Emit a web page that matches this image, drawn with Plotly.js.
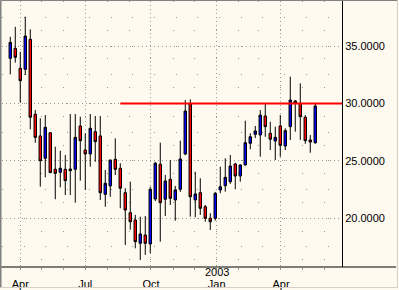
<!DOCTYPE html>
<html>
<head>
<meta charset="utf-8">
<script src="https://cdn.plot.ly/plotly-3.0.1.min.js"></script>
<style>html,body{margin:0;padding:0;background:#fffaf0;}#chart{width:399px;height:290px;}</style>
</head>
<body>
<div id="chart"></div>
<script>
const weeks = [
  "2002-03-18","2002-03-25","2002-04-01","2002-04-08","2002-04-15","2002-04-22","2002-04-29",
  "2002-05-06","2002-05-13","2002-05-20","2002-05-27","2002-06-03","2002-06-10","2002-06-17","2002-06-24",
  "2002-07-01","2002-07-08","2002-07-15","2002-07-22","2002-07-29","2002-08-05","2002-08-12","2002-08-19","2002-08-26",
  "2002-09-02","2002-09-09","2002-09-16","2002-09-23","2002-09-30","2002-10-07","2002-10-14","2002-10-21","2002-10-28",
  "2002-11-04","2002-11-11","2002-11-18","2002-11-25","2002-12-02","2002-12-09","2002-12-16","2002-12-23","2002-12-30",
  "2003-01-06","2003-01-13","2003-01-20","2003-01-27","2003-02-03","2003-02-10","2003-02-17","2003-02-24",
  "2003-03-03","2003-03-10","2003-03-17","2003-03-24","2003-03-31","2003-04-07","2003-04-14","2003-04-21","2003-04-28",
  "2003-05-05","2003-05-12","2003-05-19"
];
const openP = [33.95,34.82,33.08,32.99,35.61,29.07,27.18,25.23,27.46,24.27,24.01,24.27,24.15,24.27,28.05,
  25.95,25.61,27.55,27.18,22.09,22.82,25.14,24.36,22.23,20.49,19.85,17.82,18.54,17.76,21.68,24.71,21.66,23.40,
  21.60,22.53,25.61,29.97,21.60,22.23,21.01,20.00,20.00,22.47,22.84,23.19,24.73,23.69,24.65,26.54,27.32,
  27.26,28.92,27.41,26.74,28.05,26.30,27.99,30.23,30.03,28.81,26.83,26.59];
const highP = [35.83,36.70,34.52,37.58,36.48,29.44,28.72,29.00,27.50,26.24,25.89,25.52,29.09,29.09,28.86,
  27.41,29.09,28.92,28.92,24.21,25.10,26.97,24.80,22.62,23.19,20.30,20.14,20.20,22.75,24.93,26.59,23.77,25.08,
  22.82,26.77,30.31,30.37,24.06,23.49,21.16,20.44,22.30,24.50,25.23,25.52,24.85,24.70,28.51,27.41,28.05,
  29.44,30.03,28.42,27.99,29.00,27.85,32.35,30.31,31.77,29.00,27.26,30.03];
const lowP = [32.55,33.57,30.08,32.49,27.76,26.59,22.76,23.57,23.95,21.66,22.70,22.03,22.03,21.36,23.28,
  22.47,24.50,24.93,21.60,21.01,21.88,23.77,20.87,17.67,19.00,17.38,16.36,16.80,16.95,21.50,17.96,20.20,21.16,
  19.79,22.30,25.50,20.14,20.09,20.29,19.70,18.98,19.80,22.18,22.32,23.00,22.53,23.19,24.60,26.02,27.00,
  25.37,27.11,25.95,25.08,25.37,25.95,26.83,27.55,26.83,26.50,25.72,26.50];
const closeP = [35.34,34.04,32.00,35.89,28.81,27.06,25.02,27.93,23.98,23.92,24.36,23.28,24.30,27.06,26.77,
  25.61,27.85,26.68,22.23,23.05,25.08,24.27,22.62,20.72,19.70,17.96,18.63,17.82,22.53,24.80,21.36,23.25,21.74,
  22.47,25.17,29.35,21.88,22.12,20.87,20.00,19.70,22.18,22.75,23.57,24.56,23.69,24.65,26.59,27.11,27.61,
  29.00,27.99,26.89,27.06,26.36,27.64,30.31,30.03,28.86,26.77,26.65,29.79];

const xTickVals = ["2002-04-01","2002-07-01","2002-10-01","2003-01-01","2003-04-01"];
const xTickText = ["Apr","Jul","Oct","Jan","Apr"];
const yTickVals = [20,25,30,35];
const yearLabel = "2003";
const resistanceLevel = 30;
const resistanceStart = "2002-08-19";
const xRange = ["2002-03-06 10:00","2003-06-25 10:00"];
const yRange = [15.75, 38.95];

const font = {family: '"Liberation Sans", Arial, sans-serif', size: 11, color: '#000'};
const frameDark = '#808080', frameLight = '#d4d0c8';

const trace = {
  type: 'candlestick',
  x: weeks, open: openP, high: highP, low: lowP, close: closeP,
  increasing: {line: {color: '#000', width: 1}, fillcolor: '#0000ff'},
  decreasing: {line: {color: '#000', width: 1}, fillcolor: '#ff0000'},
  whiskerwidth: 0,
  hoverinfo: 'skip'
};

const layout = {
  width: 399, height: 290,
  margin: {l: 2, r: 57, t: 1, b: 23, pad: 0},
  paper_bgcolor: '#fffaf0', plot_bgcolor: '#fffaf0',
  font: font, showlegend: false, hovermode: false,
  boxgap: 0.3,
  xaxis: {
    type: 'date', range: xRange, rangeslider: {visible: false},
    tickmode: 'array', tickvals: xTickVals, ticktext: xTickText,
    ticks: '', ticklabelstandoff: 9, tickfont: font,
    showgrid: true, gridcolor: '#9a9a9a', gridwidth: 1, griddash: '1px,3px',
    minor: {dtick: 'M1', tick0: '2002-01-01', showgrid: true, gridcolor: '#9a9a9a', griddash: '1px,27.7px', ticks: 'outside', ticklen: 2, tickcolor: '#9a9a9a'},
    showline: false, zeroline: false, fixedrange: true
  },
  yaxis: {
    side: 'right', range: yRange,
    tickmode: 'array', tickvals: yTickVals, tickformat: '.4f',
    ticks: '', tickfont: font, ticklabelstandoff: 0,
    showgrid: true, gridcolor: '#9a9a9a', gridwidth: 1, griddash: '1px,3px',
    minor: {dtick: 2.5, tick0: 0, showgrid: true, gridcolor: '#9a9a9a', griddash: '1px,20.7px'},
    showline: true, linecolor: '#000', linewidth: 1, zeroline: false, fixedrange: true
  },
  shapes: [
    {type: 'line', xref: 'x', yref: 'y', x0: resistanceStart, x1: xRange[1], y0: resistanceLevel, y1: resistanceLevel,
     line: {color: '#ff0000', width: 2}},
    {type: 'line', xref: 'paper', yref: 'paper', x0: -0.006, x1: 1.159, y0: 0, y1: 0, line: {color: '#000', width: 1}},
    {type: 'line', xref: 'paper', yref: 'paper', x0: -0.0044, x1: 1.163, y0: 1.0019, y1: 1.0019, line: {color: frameDark, width: 1}},
    {type: 'line', xref: 'paper', yref: 'paper', x0: -0.0044, x1: -0.0044, y0: 1.0019, y1: -0.077, line: {color: frameDark, width: 2}},
    {type: 'line', xref: 'paper', yref: 'paper', x0: 1.163, x1: 1.163, y0: 1.0019, y1: -0.077, line: {color: frameLight, width: 1}},
    {type: 'line', xref: 'paper', yref: 'paper', x0: -0.0044, x1: 1.163, y0: -0.077, y1: -0.077, line: {color: frameLight, width: 1}}
  ],
  annotations: [
    {text: yearLabel, xref: 'x', yref: 'paper', x: xTickVals[3], y: -0.0451, yanchor: 'bottom', xanchor: 'center',
     borderpad: 0, showarrow: false, font: font}
  ]
};

Plotly.newPlot('chart', [trace], layout, {displayModeBar: false, staticPlot: true});
</script>
</body>
</html>
